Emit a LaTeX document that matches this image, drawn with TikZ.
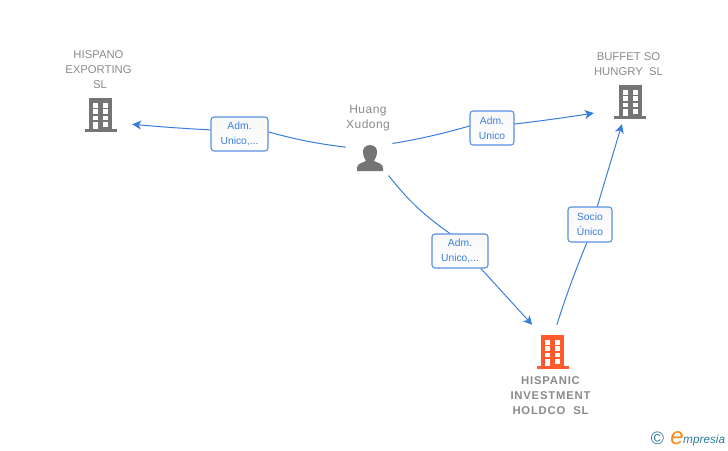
\documentclass[tikz,border=0pt]{standalone}
\usepackage{fontspec}
\setmainfont{Liberation Sans}
\usetikzlibrary{arrows.meta}
\definecolor{linkblue}{HTML}{3B7DDD}
\definecolor{iconGrey}{HTML}{757575}
\definecolor{textGrey}{HTML}{8A8A8A}
\definecolor{iconOrange}{HTML}{FF5B2E}
\definecolor{logoTeal}{HTML}{2F7C99}
\definecolor{logoOrange}{HTML}{F28C1E}
\tikzset{
  company/.style={minimum width=#1,minimum height=44pt,inner sep=0pt},
  caption/.style={text=textGrey,font=\fontsize{11.3}{15}\selectfont,align=center,inner sep=0pt},
  rolebox/.style={draw=linkblue!85,line width=1.1pt,rounded corners=3pt,top color=black!3,bottom color=white,
    text=linkblue,font=\fontsize{10.3}{15}\selectfont,align=center,inner sep=0pt},
  link/.style={linkblue,line width=1pt},
  arrowlink/.style={link,-{Stealth[length=9pt,width=9pt,inset=2.5pt]}},
  building/.pic={
    \fill (-11.5,-17) rectangle (11.5,14);
    \fill (-16,14) rectangle (16,17);
    \foreach \yA/\yB in {-12/-7,-6/-1,1/5}{
      \fill[white] (-7.5,\yA) rectangle (-2.5,\yB);
      \fill[white] (2.5,\yA) rectangle (7.5,\yB);
    }
    \fill[white] (-7.5,7) rectangle (-2.5,14);
    \fill[white] (2.5,7) rectangle (7.5,12);
  }
}
\begin{document}
\begin{tikzpicture}[x=1pt,y=-1pt]
  \useasboundingbox (0,0) rectangle (728,450);
  % companies and person
  \node[company=64pt] (hispano) at (100,115) {};
  \node[company=72pt] (buffet) at (630,102) {};
  \node[company=80pt,minimum height=54pt] (holdco) at (552,352) {};
  \node[circle,minimum size=52pt,inner sep=0pt] (huang) at (370,157) {};
  \pic[iconGrey] at (100.5,115) {building};
  \pic[iconGrey] at (630,102) {building};
  \pic[iconOrange] at (552.5,352) {building};
  \fill[iconGrey] (370,145) .. controls (364,145) and (362.5,150) .. (363,153)
    .. controls (363.5,157) and (365,159) .. (366,161)
    .. controls (362,163) and (357,163.5) .. (357,168) -- (357,171) -- (383,171) -- (383,168)
    .. controls (383,163.5) and (378,163) .. (374,161)
    .. controls (375,159) and (376.5,157) .. (377,153)
    .. controls (377.5,150) and (376,145) .. (370,145) -- cycle;
  % captions
  \node[caption] (hispanotext) at (98.5,69.5) {HISPANO\\EXPORTING\\\hspace{3pt}SL};
  \node[caption] (buffettext) at (628.5,64) {BUFFET SO\\HUNGRY~~SL};
  \node[caption,font=\fontsize{11.3}{15}\addfontfeature{LetterSpace=7}\bfseries] (holdcotext) at (550.5,396) {HISPANIC\\INVESTMENT\\HOLDCO~~SL};
  \node[caption,font=\fontsize{12}{15}\addfontfeature{LetterSpace=4}] (huangtext) at (368,118) {Huang\\Xudong};
  % role boxes
  \node[rolebox,minimum width=57pt,minimum height=34pt] (admA) at (239.5,134) {Adm.\\Unico,...};
  \node[rolebox,minimum width=44pt,minimum height=34pt] (admB) at (492,128) {Adm.\\Unico};
  \node[rolebox,minimum width=44pt,minimum height=35pt] (socio) at (590,224.5) {Socio\\Único};
  \node[rolebox,minimum width=56pt,minimum height=34pt] (admC) at (460,251) {Adm.\\Unico,...};
  % links
  \draw[link] (huang.158) to[bend left=4] (admA.4);
  \draw[arrowlink] (admA.172) to[bend left=1] (hispano.344);
  \draw[link] (huang.31) to[bend right=3] (admB.175);
  \draw[arrowlink] (admB.10) to[bend right=1] (buffet.197);
  \draw[link] (huang.-45) to[bend right=8] (admC.120);
  \draw[arrowlink] (admC.-40) -- (holdco.126);
  \draw[link] (holdco.80) to[bend left=2] (socio.-100);
  \draw[arrowlink] (socio.68) -- (buffet.250);
  % logo
  \node[text=logoTeal,font=\fontsize{18}{18}\selectfont,inner sep=0pt] (logoc) at (657.5,438.5) {©};
  \node[text=logoOrange,font=\fontsize{24}{24}\selectfont\itshape,inner sep=0pt] (logoe) at (677,438) {e};
  \node[text=logoTeal,font=\fontsize{11.8}{12}\selectfont\itshape,inner sep=0pt,anchor=west] (logotext) at (683,440) {mpresia};
\end{tikzpicture}
\end{document}
